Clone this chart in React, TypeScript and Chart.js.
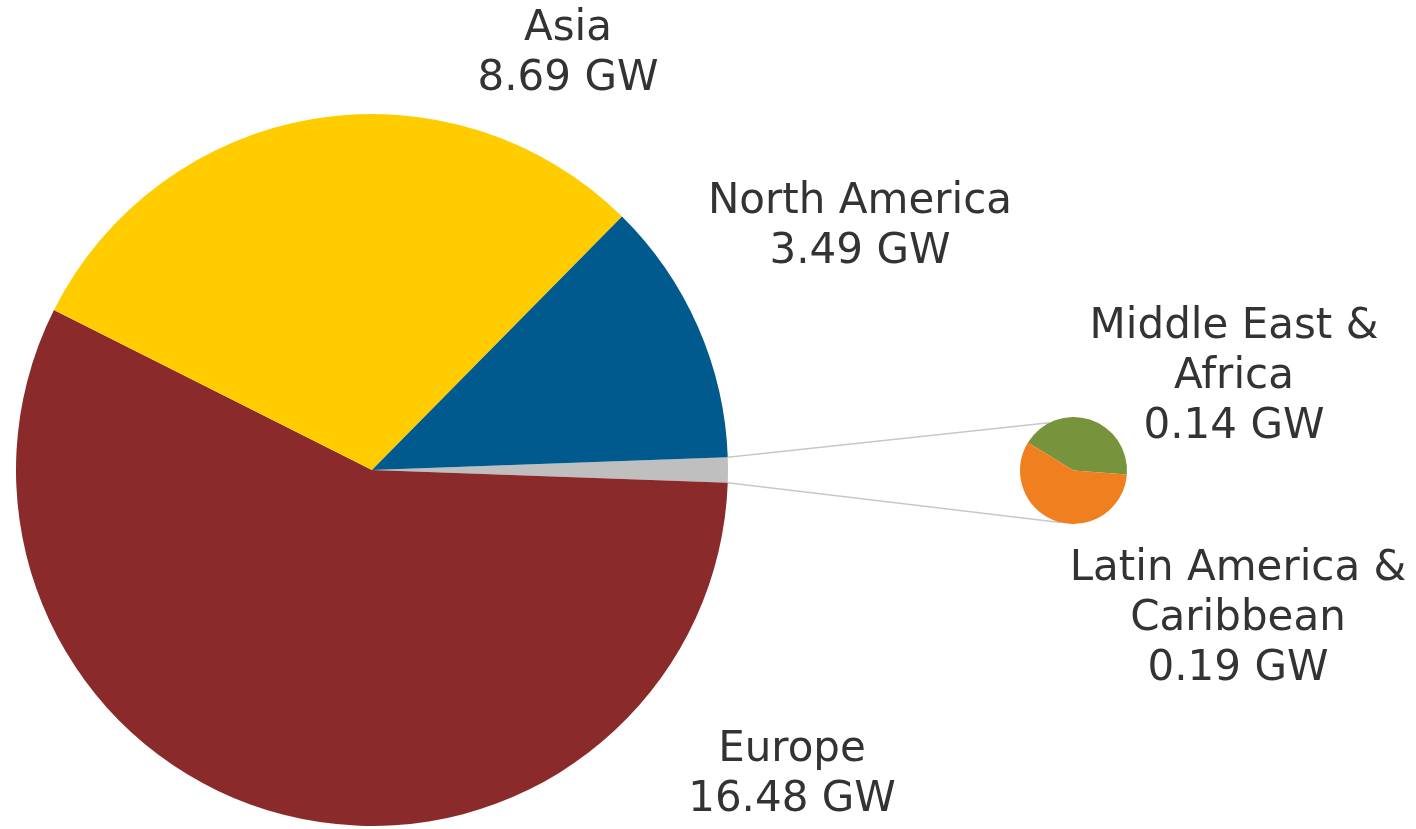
import React, { useEffect, useRef } from "react";
import { Chart, registerables } from "chart.js";

Chart.register(...registerables);

// ---- data ----
const subLabels = ["Middle East & Africa", "Latin America & Caribbean"];
const subValues = [0.14, 0.19];
const subColors = ["#77933C", "#F07F1F"];

const mainLabels = ["Other", "Europe", "Asia", "North America"];
const mainValues = [0.33, 16.48, 8.69, 3.49];
const mainColors = ["#BFBFBF", "#8A2A2B", "#FFCC00", "#005A8E"];

const labelLines = [
  ["Asia", "8.69 GW"],
  ["North America", "3.49 GW"],
  ["Middle East &", "Africa", "0.14 GW"],
  ["Latin America &", "Caribbean", "0.19 GW"],
  ["Europe", "16.48 GW"],
];
// label layout (center x, top y)
const labelPos = [
  [568, 0.5],
  [860, 173.5],
  [1234, 298.5],
  [1238, 540.5],
  [792, 722],
];

const W = 1416;
const H = 829;

export default function App() {
  const mainRef = useRef<HTMLCanvasElement>(null);
  const subRef = useRef<HTMLCanvasElement>(null);

  useEffect(() => {
    const main = new Chart(mainRef.current!, {
      type: "pie",
      data: {
        labels: mainLabels,
        datasets: [
          {
            data: mainValues,
            backgroundColor: mainColors,
            borderWidth: 0,
            hoverOffset: 0,
          },
        ],
      },
      options: {
        responsive: false,
        maintainAspectRatio: false,
        animation: false,
        events: [],
        rotation: 87.95,
        radius: 356,
        layout: { padding: { left: 0, right: W - 744, top: 111, bottom: 0 } },
        plugins: { legend: { display: false }, tooltip: { enabled: false } },
      },
    });

    const connectorAngles = [-117, 104];
    const connectorPlugin = {
      id: "connectors",
      beforeDatasetsDraw(chart: any) {
        const mArc: any = main.getDatasetMeta(0).data[0];
        const sArc: any = chart.getDatasetMeta(0).data[0];
        if (!mArc || !sArc) return;
        const ctx = chart.ctx;
        const R = mArc.outerRadius;
        const r = sArc.outerRadius;
        const starts = [mArc.startAngle, mArc.endAngle];
        ctx.save();
        ctx.strokeStyle = "#C8C8C8";
        ctx.lineWidth = 1.5;
        for (let i = 0; i < 2; i++) {
          const a = starts[i];
          const b = (connectorAngles[i] * Math.PI) / 180;
          ctx.beginPath();
          ctx.moveTo(mArc.x + R * Math.cos(a), mArc.y + R * Math.sin(a));
          ctx.lineTo(sArc.x + r * Math.cos(b), sArc.y + r * Math.sin(b));
          ctx.stroke();
        }
        ctx.restore();
      },
    };

    const sub = new Chart(subRef.current!, {
      type: "pie",
      data: {
        labels: subLabels,
        datasets: [
          {
            data: subValues,
            backgroundColor: subColors,
            borderWidth: 0,
            hoverOffset: 0,
          },
        ],
      },
      options: {
        responsive: false,
        maintainAspectRatio: false,
        animation: false,
        events: [],
        rotation: -58.5,
        radius: 53.5,
        layout: { padding: { left: 731, right: 0, top: 112, bottom: 0 } },
        plugins: { legend: { display: false }, tooltip: { enabled: false } },
      },
      plugins: [connectorPlugin],
    });

    return () => {
      sub.destroy();
      main.destroy();
    };
  }, []);

  return (
    <div
      style={{
        position: "relative",
        width: W,
        height: H,
        overflow: "hidden",
        background: "#fff",
      }}
    >
      <style>{`body{margin:0;background:#fff}`}</style>
      <canvas
        ref={mainRef}
        width={W}
        height={H}
        style={{ position: "absolute", left: 0, top: 0 }}
      />
      <canvas
        ref={subRef}
        width={W}
        height={H}
        style={{ position: "absolute", left: 0, top: 0 }}
      />
      {labelLines.map((lines, i) => (
        <div
          key={i}
          style={{
            position: "absolute",
            left: labelPos[i][0] - 250,
            top: labelPos[i][1],
            width: 500,
            textAlign: "center",
            fontFamily: "'DejaVu Sans', Verdana, sans-serif",
            fontSize: 42,
            lineHeight: "50px",
            color: "#333333",
            whiteSpace: "pre",
          }}
        >
          {lines.map((l, j) => (
            <div key={j}>{l}</div>
          ))}
        </div>
      ))}
    </div>
  );
}
